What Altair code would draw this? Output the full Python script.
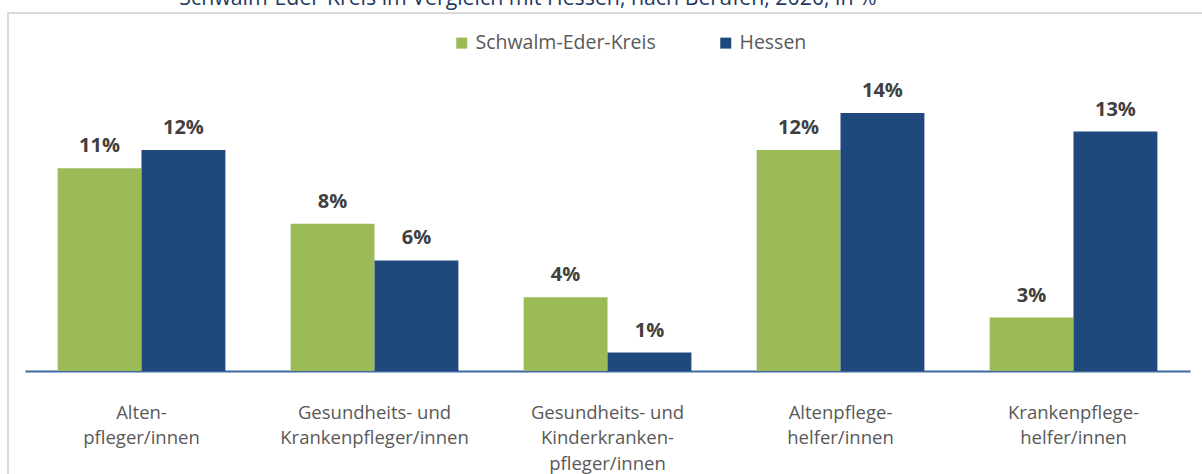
import altair as alt
import pandas as pd

title_text = "Schwalm-Eder-Kreis im Vergleich mit Hessen, nach Berufen, 2020, in %"
categories = [
    "Alten-|pfleger/innen",
    "Gesundheits- und|Krankenpfleger/innen",
    "Gesundheits- und|Kinderkranken-|pfleger/innen",
    "Altenpflege-|helfer/innen",
    "Krankenpflege-|helfer/innen",
]
series_names = ["Schwalm-Eder-Kreis", "Hessen"]
schwalm = [11.0, 8.0, 4.0, 12.0, 2.9]
hessen = [12.0, 6.0, 1.0, 14.0, 13.0]
colors = ["#9BBB59", "#1F497D"]

rows = []
for c, a, b in zip(categories, schwalm, hessen):
    rows.append({"cat": c, "series": series_names[0], "value": a})
    rows.append({"cat": c, "series": series_names[1], "value": b})
df = pd.DataFrame(rows)

FONT = "Open Sans"

x_enc = alt.X(
    "cat:N",
    sort=categories,
    scale=alt.Scale(paddingInner=0.28, paddingOuter=0.14),
    axis=alt.Axis(
        title=None,
        ticks=False,
        labelAngle=0,
        labelExpr="split(datum.label, '|')",
        labelFont=FONT,
        labelFontSize=18.5,
        labelColor="#595959",
        labelLineHeight=25.5,
        labelPadding=41,
        labelBaseline="middle",
        labelLimit=0,
        domainColor="#3F68A0",
        domainWidth=2,
        grid=False,
    ),
)
xoff = alt.XOffset("series:N", sort=series_names, scale=alt.Scale(paddingInner=0, paddingOuter=0))
y_enc = alt.Y("value:Q", scale=alt.Scale(domain=[0, 19], nice=False), axis=None)

base = alt.Chart(df)

bars = base.mark_bar().encode(
    x=x_enc,
    xOffset=xoff,
    y=y_enc,
    color=alt.Color(
        "series:N",
        sort=series_names,
        scale=alt.Scale(domain=series_names, range=colors),
        legend=alt.Legend(
            title=None,
            orient="none",
            legendX=427,
            legendY=12,
            direction="horizontal",
            symbolType="square",
            symbolSize=121,
            symbolStrokeWidth=0,
            labelFont=FONT,
            labelFontSize=19.5,
            labelColor="#595959",
            labelOffset=4,
            labelLimit=0,
            columnPadding=60,
            padding=0,
        ),
    ),
)

labels = base.mark_text(
    font=FONT, fontSize=20, fontWeight="bold", color="#404040", dy=-16, baseline="alphabetic"
).transform_calculate(
    label="format(datum.value, '.0f') + '%'"
).encode(
    x=alt.X("cat:N", sort=categories),
    xOffset=xoff,
    y=y_enc,
    text="label:N",
)

frame = alt.Chart(alt.Data(values=[{"k": 1}])).mark_rect(
    fill="transparent", stroke="#D9D9D9", strokeWidth=2
).encode(
    x=alt.value(-17), x2=alt.value(1200), y=alt.value(-8), y2=alt.value(470)
)

title = alt.Chart(alt.Data(values=[{"t": title_text}])).mark_text(
    font=FONT, fontSize=21.3, color="#1F3864", align="center", baseline="alphabetic"
).encode(
    x=alt.value(503), y=alt.value(-16), text="t:N"
)

chart = alt.layer(frame, bars, labels, title).properties(
    width=1165,
    height=350,
    padding={"left": 25, "top": 21, "right": 12, "bottom": 103},
    autosize=alt.AutoSizeParams(type="none"),
).configure_view(stroke=None)

chart.save("out.html", embed_options={"renderer": "svg", "actions": False})
